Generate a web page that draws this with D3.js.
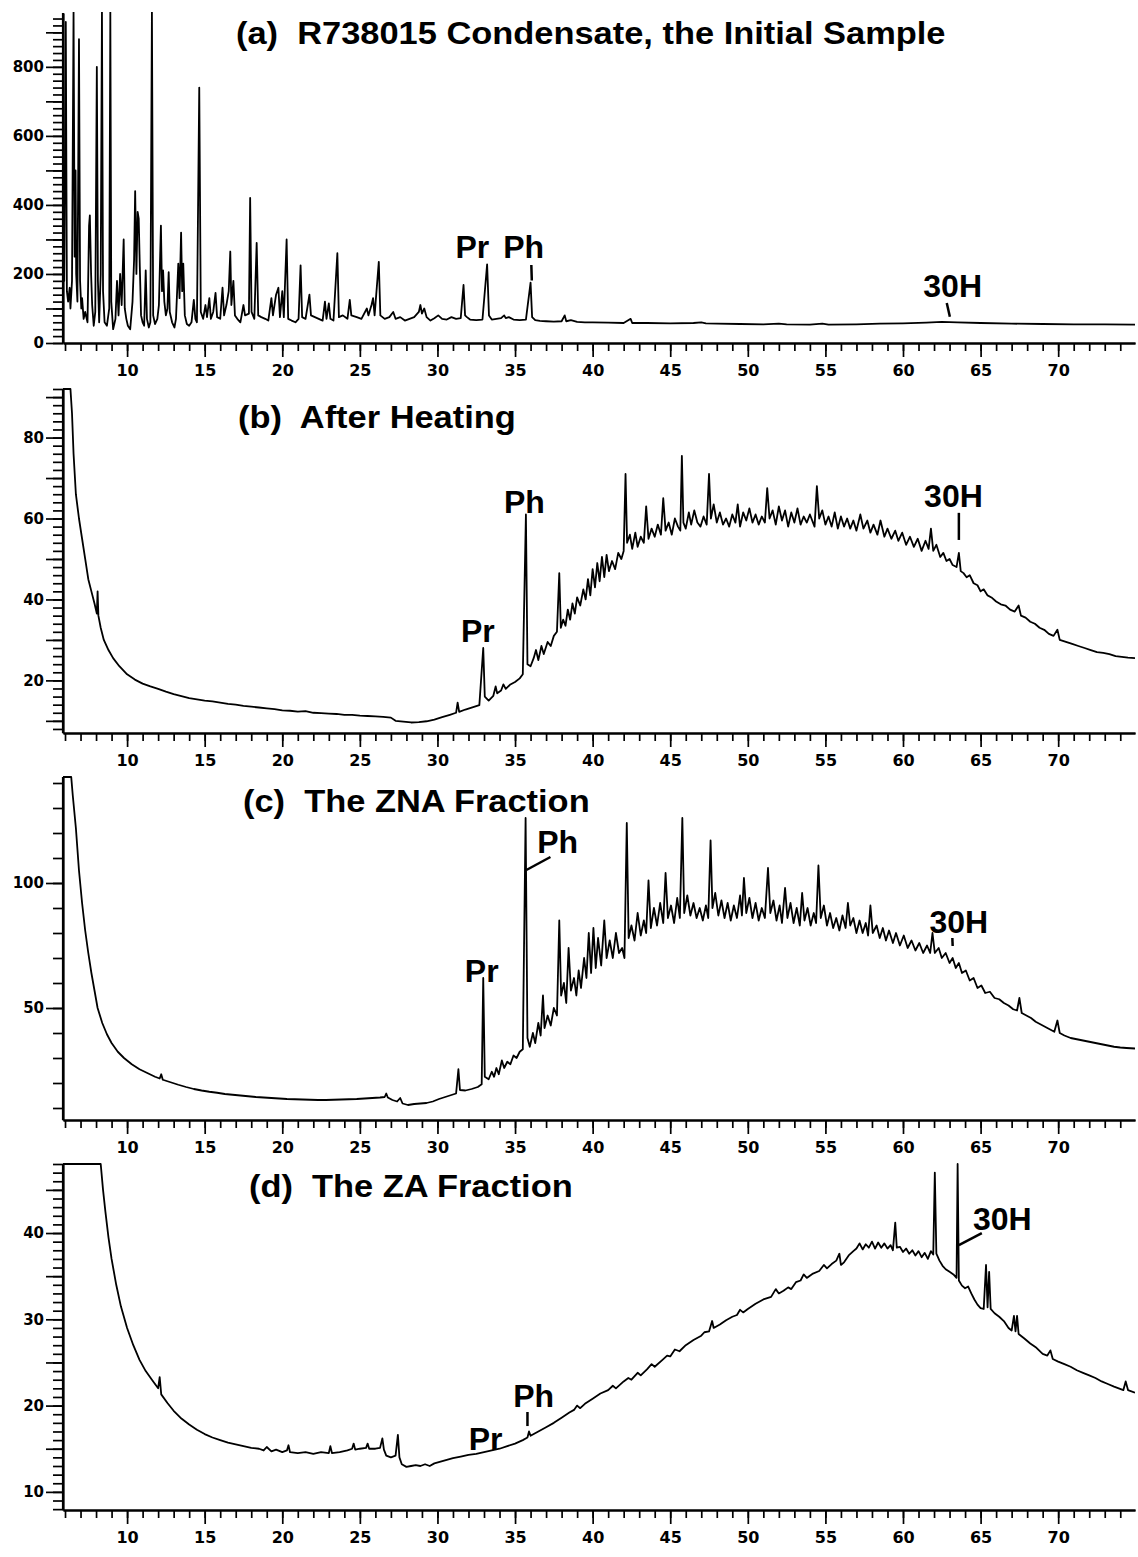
<!DOCTYPE html>
<html>
<head>
<meta charset="utf-8">
<script src="https://cdn.jsdelivr.net/npm/d3@7"></script>
<style>
  body { margin: 0; background: #fff; }
</style>
</head>
<body>
<svg id="chart" width="1138" height="1557"></svg>
<script>
// retention time ticks (min)
const timeMinor = d3.range(6, 75, 1);
const timeMajor = [10, 15, 20, 25, 30, 35, 40, 45, 50, 55, 60, 65, 70];

// y tick labels per panel
const yLabelsA = [0, 200, 400, 600, 800];
const yLabelsB = [20, 40, 60, 80];
const yLabelsC = [50, 100];
const yLabelsD = [10, 20, 30, 40];

const titles = [
  "(a)  R738015 Condensate, the Initial Sample",
  "(b)  After Heating",
  "(c)  The ZNA Fraction",
  "(d)  The ZA Fraction"
];

// (a) initial sample, [time, signal]
const traceA = [
  [5.87, 320], [5.95, 180], [6.05, 930], [6.12, 150], [6.2, 120], [6.3, 160], [6.35, 100], [6.45, 180],
  [6.55, 960], [6.62, 250], [6.68, 500], [6.72, 200], [6.8, 120], [6.9, 880], [6.97, 180], [7.05, 100],
  [7.1, 130], [7.2, 70], [7.3, 90], [7.45, 60], [7.55, 340], [7.6, 370], [7.68, 200], [7.75, 110],
  [7.85, 50], [7.95, 90], [8.05, 800], [8.12, 180], [8.2, 60], [8.3, 200], [8.38, 960], [8.45, 150],
  [8.55, 60], [8.7, 50], [8.85, 100], [8.92, 960], [8.98, 120], [9.1, 40], [9.25, 70], [9.35, 180],
  [9.45, 80], [9.55, 200], [9.65, 110], [9.78, 300], [9.85, 100], [9.95, 70], [10.05, 50], [10.2, 40],
  [10.35, 120], [10.45, 240], [10.52, 440], [10.6, 200], [10.68, 380], [10.75, 360], [10.82, 220], [10.9, 80],
  [11.0, 60], [11.1, 50], [11.2, 210], [11.28, 70], [11.4, 45], [11.5, 60], [11.6, 960], [11.68, 80],
  [11.8, 55], [11.95, 70], [12.05, 110], [12.18, 340], [12.25, 150], [12.32, 210], [12.4, 120], [12.5, 80],
  [12.6, 100], [12.68, 205], [12.75, 90], [12.9, 60], [13.05, 45], [13.15, 70], [13.3, 230], [13.38, 130],
  [13.48, 320], [13.55, 150], [13.62, 230], [13.72, 80], [13.85, 55], [14.0, 50], [14.15, 60], [14.3, 125],
  [14.4, 70], [14.5, 60], [14.65, 740], [14.75, 90], [14.9, 70], [15.05, 110], [15.15, 75], [15.3, 130],
  [15.4, 70], [15.55, 90], [15.7, 145], [15.8, 75], [16.0, 70], [16.15, 160], [16.25, 80], [16.4, 110],
  [16.55, 150], [16.65, 265], [16.72, 110], [16.85, 180], [16.95, 80], [17.1, 70], [17.3, 60], [17.5, 110],
  [17.6, 80], [17.85, 85], [17.93, 420], [18.02, 90], [18.2, 70], [18.35, 290], [18.45, 80], [18.65, 75],
  [18.9, 70], [19.1, 65], [19.3, 130], [19.4, 80], [19.6, 140], [19.75, 160], [19.85, 75], [20.0, 150],
  [20.1, 75], [20.28, 300], [20.38, 70], [20.6, 65], [20.85, 60], [21.05, 70], [21.18, 225], [21.28, 75],
  [21.5, 70], [21.75, 140], [21.85, 80], [22.1, 75], [22.35, 70], [22.6, 65], [22.75, 120], [22.85, 70],
  [23.0, 115], [23.1, 70], [23.3, 65], [23.55, 260], [23.65, 75], [23.9, 80], [24.2, 70], [24.35, 125],
  [24.45, 80], [24.8, 75], [25.1, 70], [25.45, 100], [25.55, 80], [25.75, 110], [25.85, 130], [25.95, 80],
  [26.22, 235], [26.32, 80], [26.6, 70], [26.9, 75], [27.15, 90], [27.3, 70], [27.6, 75], [27.9, 65],
  [28.2, 70], [28.5, 75], [28.8, 90], [28.9, 110], [29.0, 85], [29.15, 100], [29.3, 75], [29.55, 65],
  [29.8, 72], [30.05, 80], [30.3, 70], [30.6, 68], [30.9, 75], [31.2, 70], [31.5, 72], [31.68, 168],
  [31.78, 80], [31.9, 75], [32.1, 68], [32.5, 66], [32.9, 68], [33.2, 228], [33.32, 80], [33.5, 68],
  [33.8, 70], [34.1, 72], [34.3, 80], [34.4, 72], [34.6, 75], [34.9, 68], [35.3, 66], [35.7, 68],
  [36.0, 175], [36.1, 75], [36.3, 66], [36.6, 64], [37.0, 63], [37.5, 62], [38.0, 63], [38.2, 80],
  [38.3, 63], [38.6, 66], [39.0, 61], [39.5, 60], [40.0, 60], [41.0, 59], [42.0, 58], [42.45, 70],
  [42.55, 58], [43.5, 58], [45.0, 57], [46.5, 58], [47.0, 60], [47.3, 57], [48.0, 56], [49.5, 55],
  [51.0, 54], [52.0, 56], [52.5, 54], [54.0, 53], [54.8, 56], [55.2, 53], [57.0, 54], [58.5, 56],
  [60.0, 57], [61.5, 59], [62.5, 61], [63.5, 60], [65.0, 58], [67.0, 56], [69.0, 55], [71.0, 54],
  [73.0, 54], [74.95, 53]
];

// (b) after heating
const traceB = [
  [5.87, 92], [6.35, 92], [6.45, 86], [6.55, 76], [6.7, 66], [6.9, 60], [7.1, 55], [7.3, 50],
  [7.5, 45], [7.7, 42], [7.9, 39], [8.05, 36.5], [8.1, 42], [8.15, 36], [8.3, 33], [8.5, 30],
  [8.8, 27.5], [9.1, 25.5], [9.5, 23.5], [10.0, 21.5], [10.5, 20.2], [11.0, 19.2], [11.5, 18.5], [12.0, 17.9],
  [12.5, 17.2], [13.0, 16.6], [13.5, 16.1], [14.0, 15.6], [14.5, 15.3], [15.0, 15.0], [15.5, 14.8], [16.0, 14.5],
  [16.5, 14.2], [17.0, 14.0], [17.5, 13.7], [18.0, 13.5], [18.5, 13.3], [19.0, 13.1], [19.5, 12.9], [20.0, 12.6],
  [20.5, 12.5], [21.0, 12.3], [21.5, 12.4], [22.0, 12.0], [22.5, 11.9], [23.0, 11.8], [23.5, 11.7], [24.0, 11.5],
  [24.5, 11.5], [25.0, 11.3], [25.5, 11.2], [26.0, 11.1], [26.5, 11.0], [27.0, 10.8], [27.3, 10.0], [27.8, 9.8],
  [28.3, 9.6], [28.8, 9.7], [29.3, 9.9], [29.8, 10.3], [30.3, 10.9], [30.8, 11.5], [31.2, 12.0], [31.3, 14.5],
  [31.4, 12.2], [31.8, 12.8], [32.3, 13.4], [32.7, 13.9], [32.95, 28.0], [33.05, 16.0], [33.3, 15.0], [33.6, 16.2],
  [33.75, 18.5], [33.85, 16.8], [34.1, 17.5], [34.25, 19.0], [34.4, 17.9], [34.7, 19.0], [35.0, 19.6], [35.3, 20.5],
  [35.5, 21.5], [35.7, 61.0], [35.8, 24.0], [36.0, 23.5], [36.2, 25.5], [36.35, 27.5], [36.5, 25.0], [36.7, 28.5],
  [36.85, 26.5], [37.1, 29.5], [37.3, 28.5], [37.5, 31.0], [37.7, 32.0], [37.85, 46.5], [37.95, 33.0], [38.1, 35.0],
  [38.25, 33.5], [38.4, 37.5], [38.55, 35.0], [38.7, 39.0], [38.85, 36.5], [39.0, 40.5], [39.2, 38.5], [39.4, 42.5],
  [39.55, 40.0], [39.7, 45.0], [39.85, 41.0], [40.0, 47.5], [40.15, 43.0], [40.3, 49.0], [40.45, 44.5], [40.6, 50.5],
  [40.75, 45.5], [40.9, 51.0], [41.05, 47.0], [41.25, 49.5], [41.45, 47.5], [41.65, 51.5], [41.85, 50.0], [42.0, 52.0],
  [42.12, 71.0], [42.22, 54.0], [42.4, 56.0], [42.55, 52.5], [42.75, 56.5], [42.9, 53.0], [43.1, 55.5], [43.3, 54.0],
  [43.45, 63.0], [43.6, 55.0], [43.8, 57.5], [44.0, 55.5], [44.2, 58.5], [44.4, 56.0], [44.55, 65.0], [44.7, 57.0],
  [44.9, 59.0], [45.1, 56.0], [45.3, 60.0], [45.5, 58.0], [45.65, 57.0], [45.75, 75.5], [45.85, 59.0], [46.0, 57.5],
  [46.2, 61.5], [46.35, 58.5], [46.55, 62.0], [46.75, 59.0], [46.95, 58.0], [47.15, 60.5], [47.35, 58.5], [47.5, 71.0],
  [47.62, 60.0], [47.8, 63.5], [48.0, 59.0], [48.2, 61.5], [48.4, 58.5], [48.6, 60.0], [48.8, 58.0], [49.0, 61.0],
  [49.2, 59.0], [49.35, 63.5], [49.5, 58.0], [49.7, 61.5], [49.9, 59.5], [50.1, 62.5], [50.3, 59.0], [50.5, 61.0],
  [50.7, 58.5], [50.9, 60.5], [51.1, 59.0], [51.25, 67.5], [51.4, 60.0], [51.6, 62.0], [51.8, 58.5], [52.0, 63.0],
  [52.2, 59.5], [52.4, 62.0], [52.6, 58.0], [52.8, 61.5], [53.0, 59.0], [53.2, 62.5], [53.4, 58.5], [53.6, 60.5],
  [53.8, 59.0], [54.0, 61.0], [54.3, 58.0], [54.45, 68.0], [54.6, 60.0], [54.8, 62.0], [55.0, 58.5], [55.2, 60.5],
  [55.4, 58.0], [55.6, 61.5], [55.8, 57.5], [56.0, 60.5], [56.2, 58.0], [56.4, 60.0], [56.6, 57.5], [56.8, 59.5],
  [57.0, 57.0], [57.25, 61.0], [57.45, 57.5], [57.7, 59.5], [57.9, 56.5], [58.1, 58.5], [58.35, 56.0], [58.55, 59.5],
  [58.8, 55.5], [59.0, 57.5], [59.25, 55.0], [59.5, 57.0], [59.7, 54.5], [59.95, 56.5], [60.2, 53.5], [60.45, 55.5],
  [60.7, 53.0], [60.95, 55.0], [61.2, 52.0], [61.45, 54.5], [61.65, 52.5], [61.8, 57.5], [61.95, 52.0], [62.15, 53.5],
  [62.4, 50.5], [62.6, 51.5], [62.8, 49.5], [63.0, 50.0], [63.2, 48.5], [63.45, 48.0], [63.6, 51.5], [63.72, 47.0],
  [63.9, 46.5], [64.1, 45.5], [64.3, 46.0], [64.55, 44.0], [64.8, 43.5], [65.0, 42.0], [65.2, 42.5], [65.45, 41.0],
  [65.7, 40.5], [66.0, 39.5], [66.3, 38.8], [66.6, 38.5], [66.9, 37.5], [67.2, 37.0], [67.45, 38.5], [67.6, 36.0],
  [67.9, 35.5], [68.2, 34.5], [68.5, 34.0], [68.8, 33.0], [69.1, 32.5], [69.4, 31.5], [69.7, 31.0], [69.95, 32.5],
  [70.1, 30.0], [70.5, 29.5], [70.9, 29.0], [71.3, 28.5], [71.7, 28.0], [72.1, 27.5], [72.5, 27.0], [72.9, 26.8],
  [73.3, 26.5], [73.7, 26.0], [74.1, 25.8], [74.5, 25.6], [74.95, 25.5]
];

// (c) ZNA fraction
const traceC = [
  [5.87, 142.4], [6.4, 142.4], [6.5, 135], [6.7, 122], [6.9, 105], [7.1, 92], [7.3, 81], [7.5, 72],
  [7.7, 64], [7.9, 57], [8.1, 50], [8.4, 44], [8.7, 39.5], [9.0, 36], [9.4, 32.5], [9.8, 30],
  [10.3, 27.5], [10.8, 25.5], [11.3, 24], [11.8, 22.5], [12.1, 21.8], [12.2, 23.5], [12.3, 21.3], [12.8, 20.3],
  [13.3, 19.3], [13.8, 18.4], [14.3, 17.6], [14.8, 17.0], [15.3, 16.5], [15.8, 16.1], [16.3, 15.6], [16.8, 15.3],
  [17.3, 15.0], [17.8, 14.7], [18.3, 14.4], [18.8, 14.2], [19.3, 14.0], [19.8, 13.8], [20.3, 13.6], [20.8, 13.5],
  [21.3, 13.4], [21.8, 13.3], [22.3, 13.2], [22.8, 13.2], [23.3, 13.3], [23.8, 13.4], [24.3, 13.5], [24.8, 13.6],
  [25.3, 13.8], [25.8, 14.0], [26.3, 14.2], [26.6, 14.4], [26.7, 15.8], [26.8, 14.2], [27.1, 13.2], [27.4, 12.6],
  [27.6, 14.0], [27.75, 11.8], [28.1, 11.2], [28.5, 11.6], [28.9, 11.8], [29.3, 12.0], [29.7, 12.6], [30.1, 13.6],
  [30.5, 14.4], [30.9, 15.2], [31.2, 15.8], [31.35, 25.5], [31.45, 17.2], [31.8, 17.0], [32.2, 17.6], [32.6, 18.4],
  [32.85, 19.5], [32.95, 62], [33.05, 22.5], [33.3, 21.5], [33.5, 24.5], [33.65, 22.5], [33.8, 26], [33.95, 23.5],
  [34.15, 29], [34.3, 26], [34.5, 28.5], [34.7, 27.5], [34.9, 31], [35.1, 30], [35.3, 32.5], [35.5, 33.5],
  [35.68, 126], [35.8, 38], [35.95, 34.5], [36.15, 40], [36.3, 36], [36.5, 44], [36.65, 39], [36.8, 55],
  [36.9, 42], [37.1, 47], [37.3, 43], [37.5, 50], [37.7, 47], [37.85, 85], [37.97, 55], [38.15, 60],
  [38.3, 52], [38.45, 74], [38.6, 57], [38.8, 62], [38.95, 55], [39.1, 65], [39.25, 58], [39.45, 70],
  [39.6, 62], [39.75, 80], [39.9, 64], [40.05, 82], [40.2, 66], [40.35, 78], [40.55, 67], [40.75, 85],
  [40.9, 70], [41.1, 77], [41.3, 70], [41.5, 80], [41.7, 72], [41.9, 74], [42.05, 70], [42.2, 124],
  [42.32, 78], [42.5, 83], [42.7, 77], [42.9, 88], [43.1, 79], [43.3, 85], [43.45, 80], [43.6, 101],
  [43.75, 82], [43.95, 90], [44.15, 83], [44.35, 92], [44.55, 84], [44.7, 104], [44.85, 86], [45.05, 91],
  [45.25, 84], [45.45, 94], [45.62, 86], [45.78, 126], [45.9, 88], [46.1, 95], [46.3, 87], [46.5, 92],
  [46.7, 86], [46.9, 90], [47.1, 85], [47.3, 91], [47.45, 86], [47.6, 117], [47.72, 90], [47.9, 96],
  [48.1, 87], [48.3, 93], [48.5, 86], [48.7, 92], [48.9, 85], [49.1, 91], [49.3, 86], [49.5, 95],
  [49.62, 87], [49.75, 102], [49.9, 88], [50.1, 94], [50.3, 86], [50.5, 92], [50.7, 85], [50.9, 90],
  [51.1, 86], [51.3, 106], [51.45, 88], [51.65, 93], [51.85, 85], [52.05, 91], [52.2, 84], [52.4, 98],
  [52.55, 86], [52.75, 92], [52.95, 84], [53.15, 90], [53.35, 83], [53.5, 96], [53.65, 85], [53.85, 90],
  [54.05, 83], [54.25, 88], [54.4, 84], [54.55, 107], [54.7, 86], [54.9, 91], [55.1, 83], [55.3, 88],
  [55.5, 82], [55.7, 86], [55.9, 81], [56.1, 87], [56.3, 82], [56.45, 92], [56.6, 83], [56.8, 86],
  [57.0, 80], [57.2, 85], [57.4, 80], [57.6, 84], [57.75, 79], [57.9, 91], [58.05, 80], [58.3, 83],
  [58.5, 78], [58.7, 82], [58.9, 77], [59.1, 81], [59.35, 76], [59.55, 80], [59.8, 75], [60.05, 79],
  [60.3, 74], [60.55, 77], [60.8, 73], [61.05, 76], [61.3, 72], [61.55, 75], [61.75, 72], [61.9, 80],
  [62.05, 72], [62.3, 74], [62.5, 70], [62.75, 72], [63.0, 68], [63.2, 70], [63.4, 66], [63.6, 68],
  [63.8, 64], [64.05, 65], [64.3, 61], [64.55, 62], [64.8, 58], [65.05, 59], [65.3, 56], [65.6, 56.5],
  [65.9, 54], [66.2, 53.5], [66.5, 52], [66.8, 51], [67.1, 49.5], [67.35, 49], [67.5, 54], [67.65, 48],
  [67.95, 47], [68.25, 46], [68.55, 44.5], [68.85, 43.5], [69.15, 42.5], [69.45, 41.5], [69.75, 40.5], [69.95, 45],
  [70.1, 40], [70.4, 39], [70.8, 38], [71.2, 37.5], [71.6, 37], [72.0, 36.5], [72.4, 36], [72.8, 35.5],
  [73.2, 35], [73.6, 34.5], [74.0, 34.2], [74.4, 34], [74.95, 33.8]
];

// (d) ZA fraction
const traceD = [
  [5.87, 48], [8.3, 48], [8.45, 45], [8.6, 42.5], [8.8, 39.5], [9.0, 37], [9.3, 34], [9.6, 31.5],
  [10.0, 29], [10.4, 27], [10.8, 25.3], [11.2, 24], [11.6, 23], [12.0, 22], [12.1, 23.3], [12.2, 21.3],
  [12.6, 20.3], [13.0, 19.4], [13.5, 18.5], [14.0, 17.8], [14.5, 17.2], [15.0, 16.7], [15.5, 16.3], [16.0, 16.0],
  [16.5, 15.7], [17.0, 15.5], [17.5, 15.3], [18.0, 15.1], [18.5, 15.0], [18.8, 14.8], [19.0, 15.2], [19.3, 14.7],
  [19.6, 14.9], [20.0, 14.6], [20.3, 14.8], [20.4, 15.4], [20.5, 14.6], [21.0, 14.5], [21.5, 14.6], [22.0, 14.4],
  [22.5, 14.6], [23.0, 14.5], [23.1, 15.3], [23.2, 14.5], [23.7, 14.6], [24.2, 14.8], [24.5, 15.0], [24.6, 15.6],
  [24.7, 14.9], [25.0, 15.0], [25.4, 15.1], [25.5, 15.6], [25.6, 15.0], [26.0, 15.0], [26.3, 15.1], [26.45, 16.2],
  [26.55, 14.9], [26.7, 14.2], [27.0, 14.0], [27.3, 14.2], [27.45, 16.6], [27.55, 14.0], [27.7, 13.2], [28.0, 12.9],
  [28.3, 13.0], [28.6, 13.1], [28.9, 13.0], [29.2, 13.2], [29.5, 13.0], [29.8, 13.3], [30.2, 13.5], [30.6, 13.7],
  [31.0, 13.9], [31.5, 14.1], [32.0, 14.3], [32.5, 14.4], [33.0, 14.6], [33.5, 14.8], [34.0, 15.0], [34.5, 15.3],
  [35.0, 15.6], [35.5, 16.0], [35.8, 16.3], [35.9, 17.0], [36.0, 16.5], [36.5, 17.0], [37.0, 17.5], [37.5, 18.0],
  [38.0, 18.6], [38.5, 19.2], [38.8, 19.5], [39.0, 20.0], [39.2, 19.7], [39.5, 20.2], [40.0, 20.8], [40.5, 21.4],
  [41.0, 21.8], [41.3, 22.3], [41.5, 22.0], [42.0, 22.8], [42.3, 23.2], [42.5, 23.0], [42.9, 23.8], [43.1, 23.5],
  [43.5, 24.2], [43.8, 24.8], [44.0, 24.5], [44.5, 25.3], [44.8, 25.8], [45.0, 25.7], [45.3, 26.5], [45.6, 26.3],
  [46.0, 27.0], [46.5, 27.6], [47.0, 28.1], [47.2, 28.5], [47.5, 28.6], [47.7, 29.8], [47.8, 29.0], [48.2, 29.4],
  [48.6, 29.9], [49.0, 30.3], [49.3, 30.5], [49.5, 31.1], [49.7, 30.8], [50.0, 31.2], [50.5, 31.8], [51.0, 32.3],
  [51.5, 32.6], [51.8, 33.5], [52.0, 33.0], [52.3, 33.3], [52.6, 33.7], [52.8, 33.5], [53.1, 34.3], [53.4, 34.5],
  [53.6, 35.2], [53.8, 34.8], [54.2, 35.3], [54.6, 35.6], [54.9, 36.3], [55.1, 35.9], [55.4, 36.4], [55.7, 36.8],
  [55.9, 37.6], [56.0, 36.3], [56.2, 36.6], [56.5, 37.4], [56.8, 37.9], [57.0, 38.2], [57.2, 38.8], [57.4, 38.1],
  [57.6, 38.7], [57.8, 38.3], [58.0, 39.0], [58.2, 38.2], [58.4, 38.9], [58.6, 38.3], [58.8, 38.8], [59.0, 38.2],
  [59.2, 38.6], [59.35, 38.0], [59.5, 41.2], [59.6, 38.3], [59.8, 38.4], [60.0, 37.8], [60.2, 38.2], [60.4, 37.6],
  [60.6, 38.0], [60.8, 37.4], [61.0, 37.9], [61.2, 37.2], [61.4, 37.7], [61.6, 37.0], [61.8, 37.9], [61.95, 37.5],
  [62.05, 47], [62.15, 37.6], [62.35, 36.8], [62.55, 36.2], [62.75, 35.8], [63.0, 35.5], [63.25, 35.2], [63.45, 34.8],
  [63.52, 48], [63.6, 34.5], [63.8, 33.9], [64.0, 33.6], [64.2, 33.8], [64.4, 33.0], [64.6, 32.3], [64.8, 31.7],
  [65.0, 31.3], [65.2, 31.2], [65.35, 36.3], [65.45, 31.4], [65.55, 35.5], [65.65, 31.2], [65.9, 30.7], [66.2, 30.3],
  [66.5, 29.8], [66.8, 29.0], [67.0, 28.7], [67.15, 30.4], [67.25, 28.6], [67.35, 30.4], [67.45, 28.3], [67.8, 27.8],
  [68.2, 27.2], [68.6, 26.7], [69.0, 26.0], [69.3, 25.8], [69.5, 26.4], [69.65, 25.4], [70.0, 25.1], [70.4, 24.8],
  [70.8, 24.5], [71.2, 24.1], [71.6, 23.8], [72.0, 23.5], [72.4, 23.2], [72.8, 22.8], [73.2, 22.5], [73.6, 22.2],
  [73.9, 22.0], [74.2, 21.8], [74.35, 22.8], [74.5, 21.8], [74.95, 21.5]
];

// peak names, anchored in data units of each panel
const peakLabels = [
  { panel: 0, text: "Pr", t: 32.25, v: 246 },
  { panel: 0, text: "Ph", t: 35.55, v: 246 },
  { panel: 0, text: "30H", t: 63.2, v: 133 },
  { panel: 1, text: "Pr", t: 32.6, v: 29.5 },
  { panel: 1, text: "Ph", t: 35.6, v: 61.4 },
  { panel: 1, text: "30H", t: 63.25, v: 62.8 },
  { panel: 2, text: "Pr", t: 32.85, v: 60.4 },
  { panel: 2, text: "Ph", t: 37.75, v: 112 },
  { panel: 2, text: "30H", t: 63.6, v: 80 },
  { panel: 3, text: "Pr", t: 33.1, v: 14.85 },
  { panel: 3, text: "Ph", t: 36.2, v: 19.8 },
  { panel: 3, text: "30H", t: 66.4, v: 40.3 }
];

// marker strokes pointing at the peaks
const peakMarks = [
  { panel: 0, t1: 36.05, v1: 226, t2: 36.08, v2: 181 },
  { panel: 0, t1: 62.82, v1: 116, t2: 63.02, v2: 76 },
  { panel: 1, t1: 63.6, v1: 61.4, t2: 63.6, v2: 54.7 },
  { panel: 2, t1: 35.73, v1: 105.2, t2: 37.28, v2: 110.4 },
  { panel: 2, t1: 63.18, v1: 78, t2: 63.2, v2: 74.8 },
  { panel: 3, t1: 35.8, v1: 19.26, t2: 35.8, v2: 17.63 },
  { panel: 3, t1: 63.6, v1: 38.6, t2: 65.08, v2: 40.0 }
];

const svg = d3.select("#chart");
const left = 63, right = 1135;

const x = d3.scaleLinear().domain([5.87, 74.95]).range([left, right]);

// panel layout
const panels = [
  { trace: traceA, domain: [0, 956], top: 13, bottom: 343,
    minor: d3.range(0, 957, 20), mid: d3.range(0, 957, 100), labels: yLabelsA,
    title: { x: 236, y: 44 } },
  { trace: traceB, domain: [7, 92], top: 389, bottom: 733,
    minor: d3.range(8, 92.1, 2), mid: d3.range(10, 92, 10), labels: yLabelsB,
    title: { x: 238, y: 428 } },
  { trace: traceC, domain: [5.2, 142.4], top: 777, bottom: 1120,
    minor: d3.range(10, 141, 10), mid: [50, 100], labels: yLabelsC,
    title: { x: 243, y: 812 } },
  { trace: traceD, domain: [7.9, 48], top: 1164, bottom: 1510,
    minor: d3.range(8, 48.1, 1), mid: d3.range(10, 48, 5), labels: yLabelsD,
    title: { x: 249, y: 1197 } }
];

const tickFont = "'DejaVu Sans', sans-serif";
const textFont = "'Liberation Sans', Arial, Helvetica, sans-serif";

function styleAxis(g) {
  g.select(".domain").attr("stroke-width", 2.2).attr("stroke", "#000");
  g.selectAll(".tick line").attr("stroke-width", 1.7).attr("stroke", "#000");
  g.selectAll(".tick text")
    .attr("font-family", tickFont)
    .attr("font-weight", "bold")
    .attr("fill", "#000");
}

panels.forEach((p, i) => {
  const y = d3.scaleLinear().domain(p.domain).range([p.bottom, p.top]);
  p.y = y;

  const g = svg.append("g").attr("class", "panel-" + i);

  // clip so saturated peaks stop at the frame top
  g.append("clipPath").attr("id", "clip" + i)
    .append("rect")
    .attr("x", left).attr("y", p.top - 1)
    .attr("width", right - left).attr("height", p.bottom - p.top + 1);

  // y axis: minor, then mid / labelled ticks
  g.append("g")
    .attr("transform", `translate(${left},0)`)
    .call(d3.axisLeft(y).tickValues(p.minor).tickSize(10).tickSizeOuter(0).tickFormat(""))
    .call(styleAxis);

  const yMajor = g.append("g")
    .attr("transform", `translate(${left},0)`)
    .call(d3.axisLeft(y).tickValues(Array.from(new Set(p.mid.concat(p.labels))))
      .tickSize(17).tickSizeOuter(0).tickPadding(2)
      .tickFormat(d => p.labels.includes(d) ? d : ""))
    .call(styleAxis);
  yMajor.selectAll(".tick text").attr("font-size", 15);
  yMajor.select(".domain").attr("d", `M0,${p.top}V${p.bottom}`);

  // x axis
  g.append("g")
    .attr("transform", `translate(0,${p.bottom})`)
    .call(d3.axisBottom(x).tickValues(timeMinor).tickSize(8).tickSizeOuter(0).tickFormat(""))
    .call(styleAxis);

  const xMajor = g.append("g")
    .attr("transform", `translate(0,${p.bottom})`)
    .call(d3.axisBottom(x).tickValues(timeMajor).tickSize(14).tickSizeOuter(0).tickPadding(8))
    .call(styleAxis);
  xMajor.selectAll(".tick text").attr("font-size", 16);

  // trace
  const line = d3.line()
    .x(d => x(d[0]))
    .y(d => y(d[1]));

  g.append("path")
    .datum(p.trace)
    .attr("clip-path", `url(#clip${i})`)
    .attr("fill", "none")
    .attr("stroke", "#000")
    .attr("stroke-width", 1.8)
    .attr("stroke-linejoin", "round")
    .attr("d", line);

  // title, stretched like the original lettering
  const title = g.append("text")
    .attr("x", p.title.x)
    .attr("y", p.title.y)
    .attr("font-family", textFont)
    .attr("font-weight", "bold")
    .attr("font-size", 31)
    .attr("xml:space", "preserve")
    .style("white-space", "pre")
    .text(titles[i]);
  const w = title.node().getComputedTextLength();
  title.attr("textLength", w * 1.11).attr("lengthAdjust", "spacingAndGlyphs");
});

// peak labels
svg.selectAll("text.peak")
  .data(peakLabels)
  .join("text")
  .attr("class", "peak")
  .attr("x", d => x(d.t))
  .attr("y", d => panels[d.panel].y(d.v))
  .attr("text-anchor", "middle")
  .attr("font-family", textFont)
  .attr("font-weight", "bold")
  .attr("font-size", 32)
  .text(d => d.text);

svg.selectAll("line.mark")
  .data(peakMarks)
  .join("line")
  .attr("class", "mark")
  .attr("x1", d => x(d.t1))
  .attr("y1", d => panels[d.panel].y(d.v1))
  .attr("x2", d => x(d.t2))
  .attr("y2", d => panels[d.panel].y(d.v2))
  .attr("stroke", "#000")
  .attr("stroke-width", 2.5);
</script>
</body>
</html>
